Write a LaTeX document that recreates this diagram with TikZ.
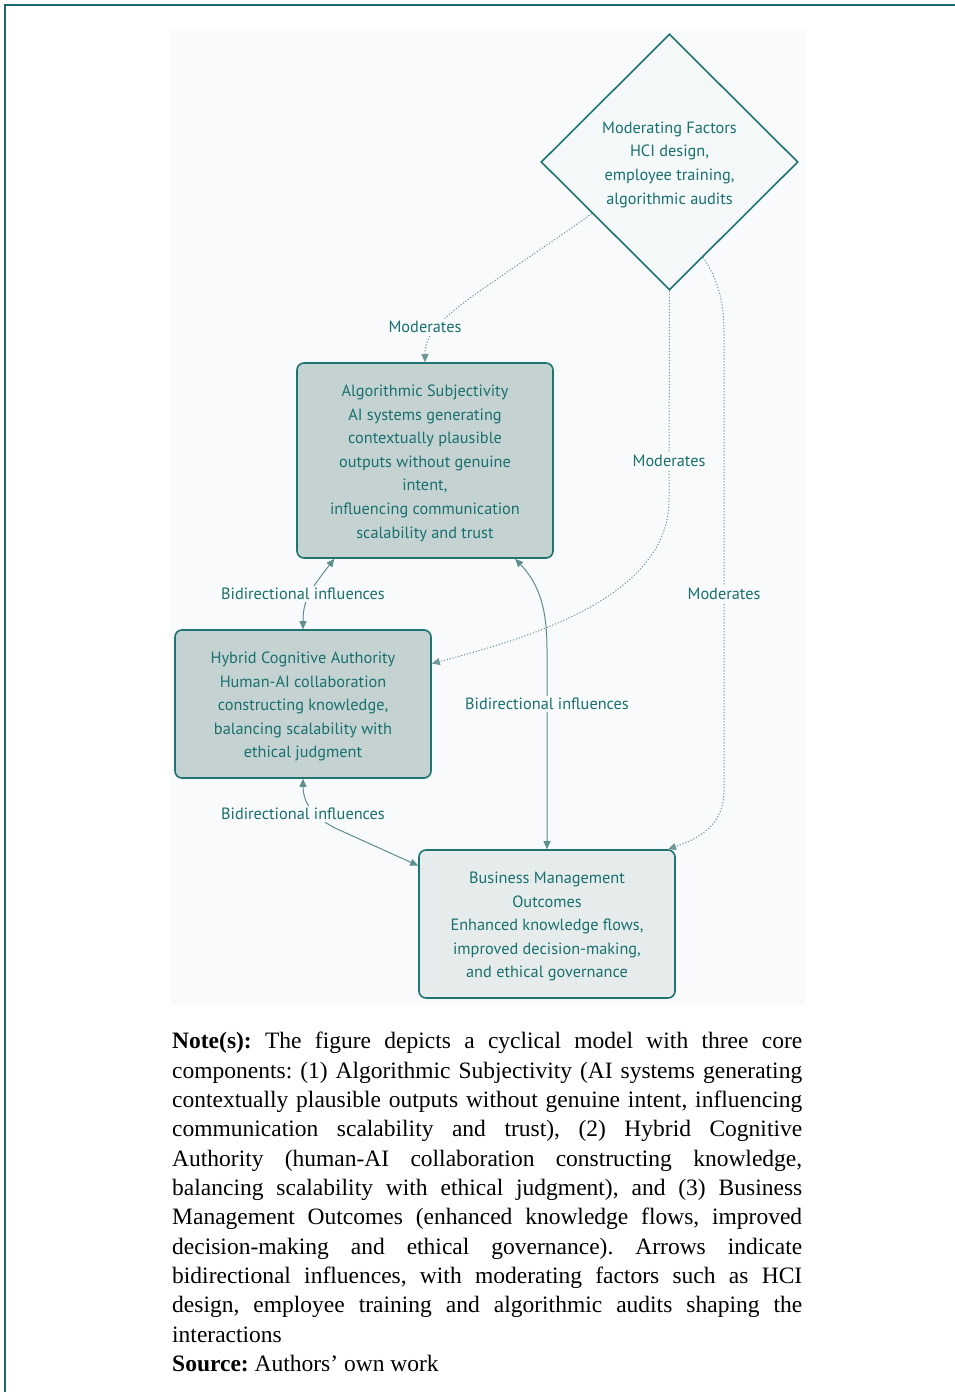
\documentclass[tikz,border=0pt]{standalone}
\usepackage{fontspec}
\setmainfont{Liberation Serif}
\newfontfamily\diagfont{PT Sans}
\usetikzlibrary{shapes.geometric,arrows.meta,calc}
\definecolor{frameteal}{HTML}{1C6A6D}
\definecolor{tealline}{HTML}{1F7373}
\definecolor{tealtext}{HTML}{19706E}
\definecolor{edgecol}{HTML}{5E8E8E}
\definecolor{modcol}{HTML}{6E9898}
\definecolor{fillA}{HTML}{C5D2D2}
\definecolor{fillC}{HTML}{E6ECEC}
\definecolor{fillD}{HTML}{F4F8F8}
\definecolor{panelbg}{HTML}{F8FAFB}
\newcommand\dgfont{\diagfont\fontsize{16.3}{23.6}\selectfont}
\newcommand\topst{\rule{0pt}{17pt}}
\begin{document}
\begin{tikzpicture}[x=1pt,y=-1pt,
  box/.style={draw=tealline, line width=1.6pt, rounded corners=7pt, minimum width=256pt,
    inner sep=0pt, align=center, text=tealtext, font=\dgfont},
  diam/.style={shape=diamond, draw=tealline, line width=1.6pt, fill=fillD, minimum width=257pt,
    minimum height=256pt, inner sep=0pt, align=center, text=tealtext, font=\dgfont},
  lbl/.style={fill=panelbg, text=tealtext, font=\dgfont, inner sep=2pt},
  solidedge/.style={draw=edgecol, line width=1pt, {Triangle[length=8pt,width=7pt]}-{Triangle[length=8pt,width=7pt]}},
  modedge/.style={draw=modcol, line width=1pt, dash pattern=on 1.2pt off 1.8pt, -{Triangle[length=8pt,width=7pt]}}
]
\useasboundingbox (0,0) rectangle (955,1392);
\fill[white] (0,0) rectangle (955,1392);
\fill[panelbg] (171,30) rectangle (805,1005);
\draw[frameteal, line width=2.6pt] (5,1392) -- (5,5) -- (955,5);

% nodes
\node[diam] (D) at (669.5,162) {\topst Moderating Factors\\HCI design,\\employee training,\\algorithmic audits};
\node[box, fill=fillA, minimum height=195pt] (A) at (425,460.5) {\topst Algorithmic Subjectivity\\AI systems generating\\contextually plausible\\outputs without genuine\\intent,\\influencing communication\\scalability and trust};
\node[box, fill=fillA, minimum height=148pt] (B) at (303,704) {\topst Hybrid Cognitive Authority\\Human-AI collaboration\\constructing knowledge,\\balancing scalability with\\ethical judgment};
\node[box, fill=fillC, minimum height=148pt] (C) at (547,924) {\topst Business Management\\Outcomes\\Enhanced knowledge flows,\\improved decision-making,\\and ethical governance};

% moderating (dotted)
\draw[modedge] ($(D.west)!0.4!(D.south)$) .. controls (470,300) and (425,320) .. (A.north);
\draw[modedge] (D.south) -- (669,500) .. controls (669,600) and (520,640) .. ($(B.north east)!0.23!(B.south east)$);
\draw[modedge] ($(D.south)!0.26!(D.east)$) .. controls (718,280) and (724,300) .. (724,335) -- (724,790) .. controls (724,825) and (700,838) .. ($(C.north west)!0.97!(C.north east)$);
% bidirectional (solid)
\draw[solidedge] ($(A.south west)!0.148!(A.south east)$) .. controls (310,590) and (303,600) .. (B.north);
\draw[solidedge] ($(A.south west)!0.85!(A.south east)$) .. controls (540,585) and (547,610) .. (547,650) -- (C.north);
\draw[solidedge] (B.south) .. controls (303,800) and (310,815) .. (335,828) -- ($(C.north west)!0.11!(C.south west)$);

% labels (drawn after the connectors so that they mask them)
\node[lbl] (m1) at (425,327) {Moderates};
\node[lbl] (m2) at (669,461) {Moderates};
\node[lbl] (m3) at (724,594) {Moderates};
\node[lbl] (b1) at (303,594) {Bidirectional influences};
\node[lbl] (b2) at (547,704) {Bidirectional influences};
\node[lbl] (b3) at (303,814) {Bidirectional influences};

% note
\node[anchor=north west, inner sep=0pt, text width=630pt, align=justify,
  font=\fontsize{23.5}{29.35}\selectfont] (note) at (172,1032) {%
\frenchspacing\hyphenpenalty=10000\relax
\textbf{Note(s):} The figure depicts a cyclical model with three core\linebreak
components: (1) Algorithmic Subjectivity (AI systems generating\linebreak
contextually plausible outputs without genuine intent, influencing\linebreak
communication scalability and trust), (2) Hybrid Cognitive\linebreak
Authority (human-AI collaboration constructing knowledge,\linebreak
balancing scalability with ethical judgment), and (3) Business\linebreak
Management Outcomes (enhanced knowledge flows, improved\linebreak
decision-making and ethical governance). Arrows indicate\linebreak
bidirectional influences, with moderating factors such as HCI\linebreak
design, employee training and algorithmic audits shaping the\linebreak
interactions\\
\textbf{Source:} Authors’ own work};
\end{tikzpicture}
\end{document}
